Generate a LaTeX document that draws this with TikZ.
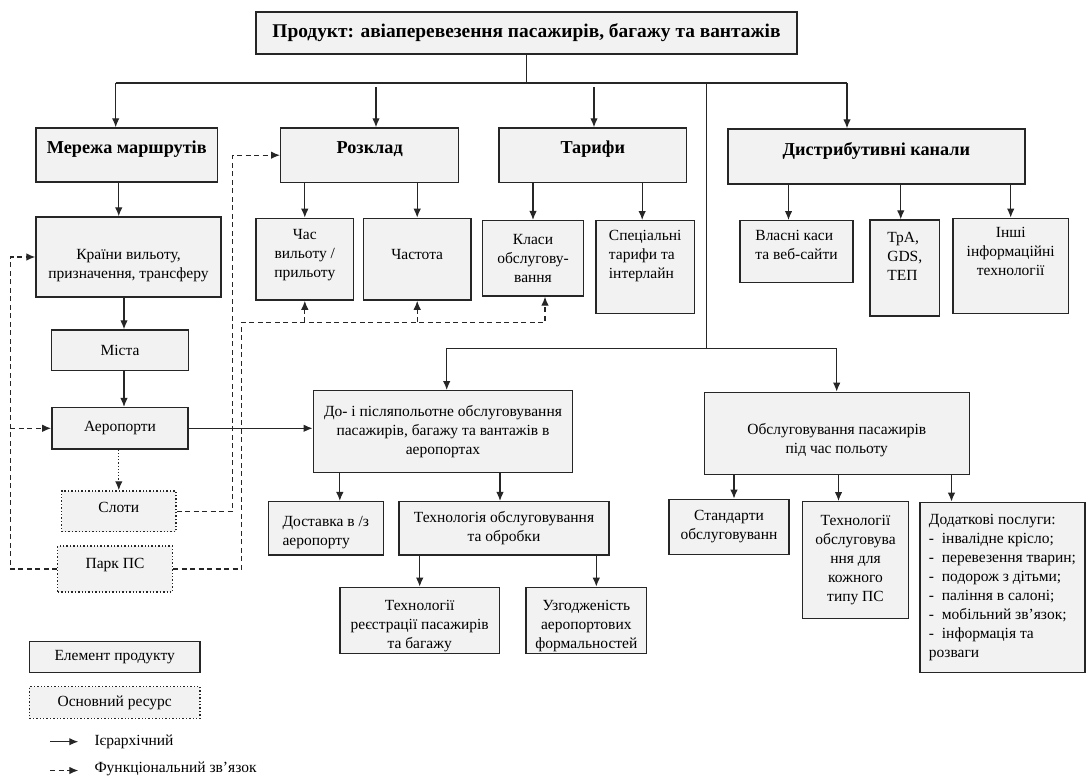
\documentclass[tikz,border=0pt]{standalone}
\usepackage{fontspec}
\setmainfont{Liberation Serif}
\usetikzlibrary{positioning,arrows.meta}

\definecolor{boxgray}{HTML}{F2F2F2}
\definecolor{edgegray}{HTML}{262626}

\begin{document}
\begin{tikzpicture}[x=1pt, y=-1pt, >={Latex[length=9pt,width=7.5pt]},
	elem/.style={rectangle, draw=edgegray, line width=1.4pt, fill=boxgray, align=center, inner sep=2pt, font=\fontsize{15.5}{19}\selectfont},
	res/.style={elem, dotted},
	head/.style={elem, font=\fontsize{18.2}{22}\selectfont\bfseries, text depth=15.5pt},
	hier/.style={->, draw=edgegray, line width=1.2pt},
	func/.style={->, draw=edgegray, line width=1.2pt, dash pattern=on 5pt off 3.5pt},
	link/.style={draw=edgegray, line width=1.2pt}]

	\useasboundingbox (0,0) rectangle (1087,776);

	% top level
	\node[elem, line width=2.3pt, font=\fontsize{19.4}{23}\selectfont\bfseries, minimum width=541pt, minimum height=42pt] (prod) at (526.5,33) {Продукт: авіаперевезення пасажирів, багажу та вантажів};

	\node[head, minimum width=181.5pt, minimum height=54pt] (net) at (126.75,155) {Мережа маршрутів};
	\node[head, minimum width=178pt, minimum height=54.5pt] (sched) at (369.7,155.2) {Розклад};
	\node[head, minimum width=187.5pt, minimum height=54.5pt] (fare) at (592.75,155.2) {Тарифи};
	\node[head, text depth=14.5pt, minimum width=297pt, minimum height=55pt] (dist) at (876.4,156.5) {Дистрибутивні канали};

	% second row
	\node[elem, text height=46pt, minimum width=185pt, minimum height=80pt] (ctry) at (128.5,257) {Країни вильоту,\\призначення, трансферу};
	\node[elem, text depth=11pt, minimum width=97.6pt, minimum height=81.7pt] (time) at (304.8,259.2) {Час\\вильоту /\\прильоту};
	\node[elem, text depth=10pt, minimum width=107.7pt, minimum height=81.7pt] (freq) at (417.2,259.2) {Частота};
	\node[elem, minimum width=100.6pt, minimum height=75.3pt] (cls) at (533,258.3) {Класи\\обслугову-\\вання};
	\node[elem, align=left, text depth=26pt, minimum width=98.7pt, minimum height=92.6pt] (spec) at (645.2,267) {Спеціальні\\тарифи та\\інтерлайн};
	\node[elem, align=left, text depth=13pt, minimum width=113pt, minimum height=62pt] (own) at (796.5,251.7) {Власні каси\\та веб-сайти};
	\node[elem, align=left, text depth=24pt, minimum width=69.5pt, minimum height=96pt] (gds) at (904.75,268) {ТрА,\\GDS,\\ТЕП};
	\node[elem, text depth=29pt, minimum width=115.8pt, minimum height=95pt] (oth) at (1010.7,265.8) {Інші\\інформаційні\\технології};

	% routes column
	\node[elem, minimum width=136.6pt, minimum height=40.7pt] (city) at (120,350.3) {Міста};
	\node[elem, minimum width=136.3pt, minimum height=41.3pt] (airp) at (120,428.3) {Аеропорти};
	\node[res, text depth=8pt, minimum width=114.3pt, minimum height=40.7pt] (slot) at (118.8,511.3) {Слоти};
	\node[res, text depth=11.5pt, minimum width=114.6pt, minimum height=46pt] (fleet) at (115,569) {Парк ПС};

	% ground handling
	\node[elem, minimum width=259.4pt, minimum height=81.6pt] (ground) at (443,431.5) {До- і післяпольотне обслуговування\\пасажирів, багажу та вантажів в\\аеропортах};
	\node[elem, align=left, text height=37pt, minimum width=115pt, minimum height=53.3pt] (deliv) at (325.8,528.3) {Доставка в /з\\аеропорту};
	\node[elem, minimum width=210pt, minimum height=53.3pt] (tech) at (504,528.3) {Технологія обслуговування\\та обробки};
	\node[elem, text height=59pt, minimum width=159.3pt, minimum height=64.4pt] (reg) at (419.7,620.5) {Технології\\реєстрації пасажирів\\та багажу};
	\node[elem, text height=59pt, minimum width=120.7pt, minimum height=64.4pt] (form) at (586.3,620.5) {Узгодженість\\аеропортових\\формальностей};

	% in-flight service
	\node[elem, text height=44pt, minimum width=265pt, minimum height=82pt] (fly) at (836.8,433.3) {Обслуговування пасажирів\\під час польоту};
	\node[elem, minimum width=120pt, minimum height=55pt] (std) at (729,526.8) {Стандарти\\обслуговуванн};
	\node[elem, minimum width=106.4pt, minimum height=117pt] (tps) at (855.5,560.2) {Технології\\обслуговува\\ння для\\кожного\\типу ПС};
	\node[elem, align=left, minimum width=165pt, minimum height=170.4pt] (extra) at (1002.5,587.5) {Додаткові послуги:\\-~~інвалідне крісло;\\-~~перевезення тварин;\\-~~подорож з дітьми;\\-~~паління в салоні;\\-~~мобільний зв’язок;\\-~~інформація та\\розваги};

	% legend
	\node[elem, minimum width=170.7pt, minimum height=30.6pt] (key1) at (114.7,657) {Елемент продукту};
	\node[res, minimum width=170.7pt, minimum height=31.6pt, below=13pt of key1] (key2) {Основний ресурс};
	\coordinate (keyA) at (50,741.7);
	\coordinate (keyB) at (78.3,741.7);
	\coordinate (keyC) at (50,770.5);
	\coordinate (keyD) at (78.3,770.5);
	\draw[hier] (keyA) -- (keyB);
	\draw[func] (keyC) -- (keyD);
	\node[right=16pt of keyB, font=\fontsize{15.5}{19}\selectfont, inner sep=0pt] (keyBtxt) {Ієрархічний};
	\node[right=16pt of keyD, yshift=2pt, font=\fontsize{15.5}{19}\selectfont, inner sep=0pt] (keyDtxt) {Функціональний зв’язок};

	% hierarchy lines
	\coordinate (bus) at (526.5,83);
	\coordinate (busL) at (115.7,83);
	\coordinate (busR) at (847,83);
	\coordinate (toSched) at (376,87);
	\coordinate (toFare) at (594,87);
	\coordinate (trunk) at (706.8,83);
	\coordinate (bus2) at (706.8,348.3);
	\coordinate (bus2L) at (446.7,348.3);
	\coordinate (bus2R) at (836.7,348.3);
	\draw[link] (prod) -- (bus);
	\draw[link] (busL) -- (busR);
	\draw[link] (trunk) -- (bus2);
	\draw[link] (bus2L) -- (bus2R);
	\draw[hier] (busL) -- (busL |- net.north);
	\draw[hier] (toSched) -- (toSched |- sched.north);
	\draw[hier] (toFare) -- (toFare |- fare.north);
	\draw[hier] (busR) -- (busR |- dist.north);
	\draw[hier] (bus2L) -- (bus2L |- ground.north);
	\draw[hier] (bus2R) -- (bus2R |- fly.north);

	\draw[hier] ([xshift=-8pt]net.south) -- ([xshift=-8pt]net.south |- ctry.north);
	\draw[hier] (time.north |- sched.south) -- (time.north);
	\draw[hier] (freq.north |- sched.south) -- (freq.north);
	\draw[hier] (cls.north |- fare.south) -- (cls.north);
	\draw[hier] ([xshift=-3pt]spec.north |- fare.south) -- ([xshift=-3pt]spec.north);
	\draw[hier] ([xshift=-8pt]own.north |- dist.south) -- ([xshift=-8pt]own.north);
	\draw[hier] ([xshift=-4pt]gds.north |- dist.south) -- ([xshift=-4pt]gds.north);
	\draw[hier] (oth.north |- dist.south) -- (oth.north);
	\draw[hier] ([xshift=4pt]city.north |- ctry.south) -- ([xshift=4pt]city.north);
	\draw[hier] ([xshift=4pt]airp.north |- city.south) -- ([xshift=4pt]airp.north);
	\draw[->, draw=edgegray, line width=1.2pt, dotted] (slot.north |- airp.south) -- (slot.north);
	\draw[hier] (airp.east) -- (airp.east -| ground.west);
	\draw[hier] ([xshift=14pt]deliv.north |- ground.south) -- ([xshift=14pt]deliv.north);
	\draw[hier] ([xshift=-4pt]tech.north |- ground.south) -- ([xshift=-4pt]tech.north);
	\draw[hier] (reg.north |- tech.south) -- (reg.north);
	\draw[hier] ([xshift=10pt]form.north |- tech.south) -- ([xshift=10pt]form.north);
	\draw[hier] ([xshift=5pt]std.north |- fly.south) -- ([xshift=5pt]std.north);
	\draw[hier] ([xshift=-17pt]tps.north |- fly.south) -- ([xshift=-17pt]tps.north);
	\draw[hier] ([xshift=-51pt]extra.north |- fly.south) -- ([xshift=-51pt]extra.north);

	% functional links from the resources
	\coordinate (fbus) at (241.7,322.3);
	\draw[func] (fleet.west) -| ([xshift=-25pt]ctry.west) -- (ctry.west);
	\draw[func] ([xshift=-40.7pt]airp.west) -- (airp.west);
	\draw[func] (slot.east) -| ([xshift=-47.6pt]sched.west) -- (sched.west);
	\draw[func] (fleet.east) -| (fbus) -| ([xshift=12pt]cls.south);
	\draw[func] (time.south |- fbus) -- (time.south);
	\draw[func] (freq.south |- fbus) -- (freq.south);
\end{tikzpicture}
\end{document}
